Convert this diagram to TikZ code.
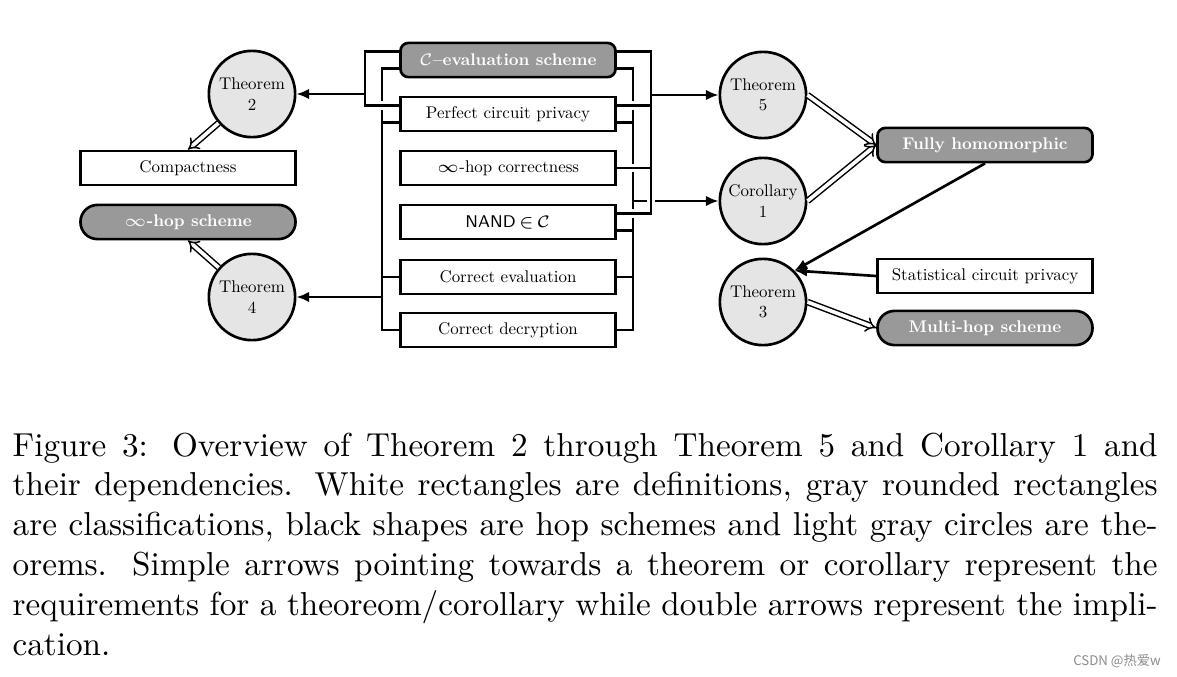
\documentclass[tikz,border=0pt]{standalone}
\usepackage{fontspec}
\usepackage{tikz}
\usetikzlibrary{arrows.meta}
\newfontfamily\diagfont{lmroman10-regular.otf}[BoldFont=lmroman10-bold.otf,
  Ligatures=TeX]
\newfontfamily\cjkfont{Noto Sans CJK SC}
\tikzset{
  ovdef/.style={draw=black, fill=white, line width=0.8pt,
    minimum width=64.8pt, minimum height=10.3pt, inner sep=0pt,
    font=\fontsize{5.1}{6.1}\diagfont},
  ovclass/.style={ovdef, fill=black!40, text=white, rounded corners=2.4pt,
    font=\fontsize{5.1}{6.1}\diagfont\bfseries},
  ovhop/.style={ovclass, rounded corners=5.1pt},
  ovthm/.style={circle, draw=black, fill=black!10, line width=0.8pt,
    minimum size=26pt, inner sep=0pt, align=center,
    font=\fontsize{5.1}{6.1}\diagfont},
  ovwire/.style={line width=0.8pt},
  ovcross/.style={ovwire, preaction={draw=white, line width=2.6pt,
    shorten <=1.6pt, shorten >=1.6pt}},
  ovreq/.style={-{Latex[length=3.8pt, width=3.2pt]}, line width=0.8pt},
  ovimpl/.style={-{Implies}, double, line width=0.45pt,
    double distance=1.1pt}
}
\begin{document}
\begin{tikzpicture}[x=0.3013pt, y=-0.3013pt]
  \path[use as bounding box] (0,0) rectangle (1177,677);

  \node[ovclass] (ceval) at (508,60) {$\mathcal{C}$--evaluation scheme};
  \node[ovdef] (pcp) at (508,114) {Perfect circuit privacy};
  \node[ovdef] (inftyc) at (508,168) {$\infty$-hop correctness};
  \node[ovdef] (nand) at (508,222) {$\mathsf{NAND}\!\in\!\mathcal{C}$};
  \node[ovdef] (cev) at (508,277) {Correct evaluation};
  \node[ovdef] (cdec) at (508,330) {Correct decryption};

  \node[ovthm] (thm2) at (252,94) {Theorem\\2};
  \node[ovthm] (thm4) at (252,297) {Theorem\\4};
  \node[ovdef] (compact) at (188,168) {Compactness};
  \node[ovhop] (inftys) at (188,222) {$\infty$-hop scheme};

  \node[ovthm] (thm5) at (763,95) {Theorem\\5};
  \node[ovthm] (cor1) at (763,201) {Corollary\\1};
  \node[ovthm] (thm3) at (763,302) {Theorem\\3};
  \node[ovclass] (fullh) at (985,145) {Fully homomorphic};
  \node[ovdef] (stat) at (985,276) {Statistical circuit privacy};
  \node[ovhop] (multi) at (985,328) {Multi-hop scheme};

  \coordinate (lo) at (365,94);
  \coordinate (li) at (382,297);
  \coordinate (ro) at (651,95);
  \coordinate (ri) at (633,201);

  \draw[ovwire] ([yshift=-2.5pt]ceval.west) -| (li) |- (cdec.west);
  \draw[ovwire] ([yshift=-2.5pt]pcp.west) -- ([yshift=-2.5pt]pcp.west -| li);
  \draw[ovwire] (cev.west) -- (cev.west -| li);
  \draw[ovcross] ([yshift=2.5pt]ceval.west) -| (lo) |- ([yshift=2.5pt]pcp.west);
  \draw[ovreq] (lo) -- (thm2);
  \draw[ovreq] (li) -- (thm4);

  \draw[ovwire] ([yshift=-2.5pt]ceval.east) -| (ri) |- (cdec.east);
  \draw[ovwire] ([yshift=-2.5pt]pcp.east) -- ([yshift=-2.5pt]pcp.east -| ri);
  \draw[ovwire] ([yshift=-2.5pt]nand.east) -- ([yshift=-2.5pt]nand.east -| ri);
  \draw[ovwire] (cev.east) -- (cev.east -| ri);
  \draw[ovreq] (ri) -- (cor1);
  \draw[ovcross] ([yshift=2.5pt]ceval.east) -| (ro) |- ([yshift=2.5pt]nand.east);
  \draw[ovcross] ([yshift=2.5pt]pcp.east) -- ([yshift=2.5pt]pcp.east -| ro);
  \draw[ovcross] (inftyc.east) -- (inftyc.east -| ro);
  \draw[ovreq] (ro) -- (thm5);

  \draw[ovimpl] (thm2) -- (compact.north);
  \draw[ovimpl] (thm4) -- (inftys.south);
  \draw[ovimpl] (thm5.east) -- (fullh.west);
  \draw[ovimpl] (cor1.east) -- (fullh.west);
  \draw[ovimpl] (thm3.east) -- (multi.west);
  \draw[ovreq] (fullh.south) -- (thm3.north east);
  \draw[ovreq] (stat.west) -- (thm3.north east);

  \node[anchor=north west, inner sep=0pt, text width=345pt, align=justify,
    font=\normalsize] (caption) at (12,432)
    {Figure 3: Overview of Theorem 2 through Theorem 5 and Corollary 1 and\linebreak
    their dependencies. White rectangles are definitions, gray rounded rectangles\linebreak
    are classifications, black shapes are hop schemes and light gray circles are the-\linebreak
    orems. Simple arrows pointing towards a theorem or corollary represent the\linebreak
    requirements for a theoreom/corollary while double arrows represent the impli-\linebreak
    cation.};
  \node[font=\fontsize{4}{5}\cjkfont, text=black!45, inner sep=0pt] (mark)
    at (1117,661) {CSDN @热爱w};
\end{tikzpicture}
\end{document}
